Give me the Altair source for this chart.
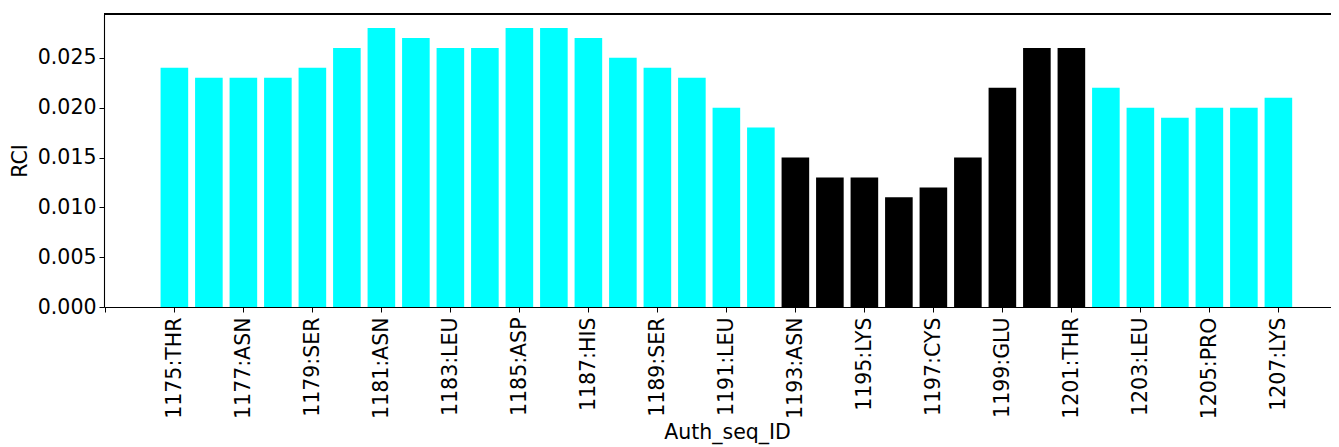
import altair as alt
import pandas as pd
import json

# residue numbers and RCI values
residues = list(range(1175, 1208))
rci = [0.024, 0.023, 0.023, 0.023, 0.024, 0.026, 0.028, 0.027, 0.026, 0.026,
       0.028, 0.028, 0.027, 0.025, 0.024, 0.023, 0.020, 0.018,
       0.015, 0.013, 0.013, 0.011, 0.012, 0.015, 0.022, 0.026, 0.026,
       0.022, 0.020, 0.019, 0.020, 0.020, 0.021]
# highlighted region (black bars)
highlight = [1193, 1194, 1195, 1196, 1197, 1198, 1199, 1200, 1201]

# tick positions and labels shown on x axis
tick_values = [1173, 1175, 1177, 1179, 1181, 1183, 1185, 1187, 1189, 1191,
               1193, 1195, 1197, 1199, 1201, 1203, 1205, 1207]
tick_labels = ["", "1175:THR", "1177:ASN", "1179:SER", "1181:ASN", "1183:LEU",
               "1185:ASP", "1187:HIS", "1189:SER", "1191:LEU", "1193:ASN",
               "1195:LYS", "1197:CYS", "1199:GLU", "1201:THR", "1203:LEU",
               "1205:PRO", "1207:LYS"]

df = pd.DataFrame({
    "res": residues,
    "RCI": rci,
    "group": ["hl" if r in highlight else "base" for r in residues],
})

FONT = "DejaVu Sans"
FS = 20.5
W = 1227
H = 293
PX_PER_UNIT = 34.5
X0 = 1172.96
X1 = X0 + W / PX_PER_UNIT

label_expr = (
    f"{json.dumps(tick_labels)}[indexof({json.dumps(tick_values)}, datum.value)]"
)

bars = alt.Chart(df).transform_calculate(
    x0="datum.res - 0.4", x1="datum.res + 0.4"
).mark_bar().encode(
    x=alt.X("x0:Q",
            scale=alt.Scale(domain=[X0, X1], nice=False, zero=False),
            axis=alt.Axis(
                values=tick_values, labelExpr=label_expr,
                labelAngle=270, labelAlign="right", labelBaseline="middle",
                labelFont=FONT, labelFontSize=FS, labelColor="black",
                labelPadding=5, tickSize=5, tickColor="black", tickWidth=1,
                domainColor="black", domainWidth=1.1, grid=False,
                title="Auth_seq_ID", titleFont=FONT, titleFontSize=FS,
                titleFontWeight="normal", titleColor="black",
                titleX=623, titleY=131, titleBaseline="alphabetic",
                titleAnchor="start", titleAlign="center", labelFlush=False,
                labelOverlap=False,
            )),
    x2="x1:Q",
    y=alt.Y("RCI:Q",
            scale=alt.Scale(domain=[0, 0.0294], nice=False),
            axis=alt.Axis(
                values=[0, 0.005, 0.01, 0.015, 0.02, 0.025], format=".3f",
                labelFont=FONT, labelFontSize=FS, labelColor="black",
                labelPadding=3, tickSize=5, tickColor="black", tickWidth=1,
                domainColor="black", domainWidth=1.1, grid=False,
                title="RCI", titleFont=FONT, titleFontSize=FS,
                titleFontWeight="normal", titleColor="black",
                titleX=-84, titleBaseline="middle", labelFlush=False,
            )),
    y2=alt.datum(0),
    color=alt.Color("group:N",
                    scale=alt.Scale(domain=["base", "hl"], range=["#00ffff", "#000000"]),
                    legend=None),
)

top_spine = alt.Chart(df).mark_rule(color="black", strokeWidth=1.1).encode(
    x=alt.value(0), x2=alt.value(W), y=alt.value(0)
)

chart = alt.layer(bars, top_spine).properties(
    width=W, height=H,
    autosize=alt.AutoSizeParams(type="none"),
    padding={"left": 96, "top": 6, "right": 0, "bottom": 138},
).configure_view(stroke=None).configure(background="white")

chart.save("out.html", embed_options={"renderer": "svg", "actions": False})
